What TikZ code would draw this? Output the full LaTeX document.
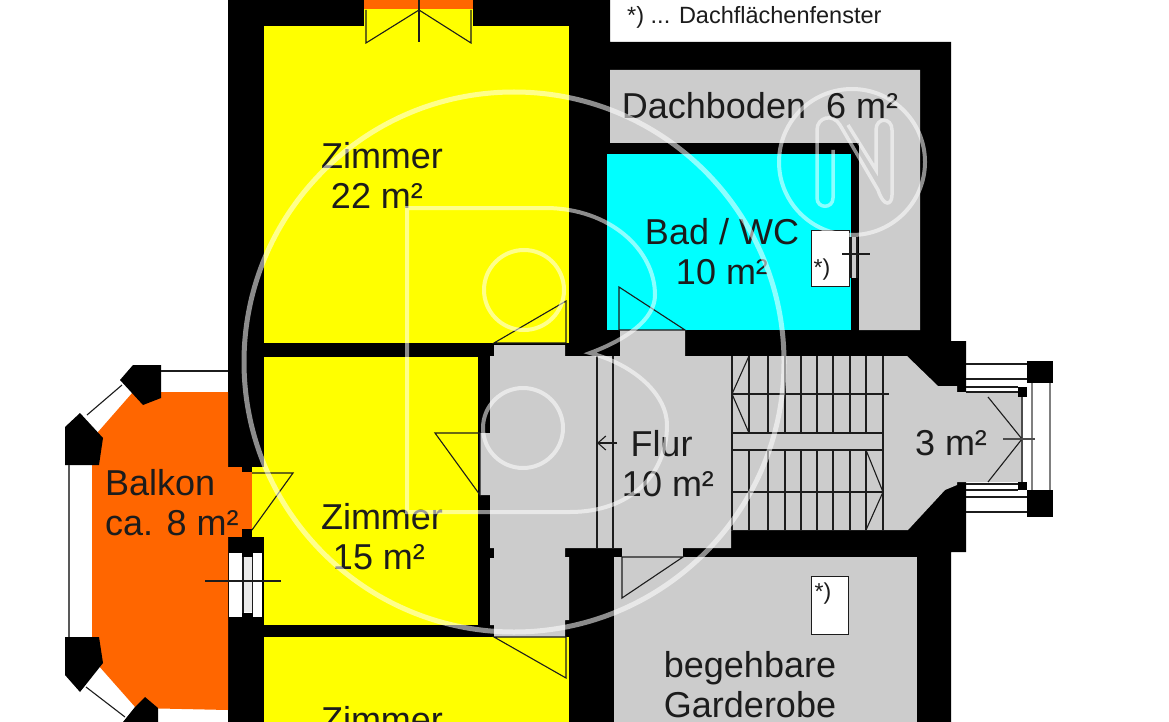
\documentclass[tikz,border=0pt]{standalone}
\usepackage{fontspec}
\setmainfont{Liberation Sans}
\usetikzlibrary{arrows.meta}
\definecolor{wallc}{HTML}{000000}
\definecolor{roomy}{HTML}{FFFF00}
\definecolor{roomg}{HTML}{CCCCCC}
\definecolor{roomc}{HTML}{00FFFF}
\definecolor{roomo}{HTML}{FF6600}
\definecolor{inkc}{HTML}{1C1C1C}
\tikzset{
  wall/.style={fill=wallc,draw=none},
  yroom/.style={fill=roomy,draw=none},
  groom/.style={fill=roomg,draw=none},
  croom/.style={fill=roomc,draw=none},
  oroom/.style={fill=roomo,draw=none},
  fine/.style={draw=inkc,line width=1.1pt},
  label/.style={font=\fontsize{36}{40}\selectfont,text=inkc,align=center,inner sep=0pt},
  small/.style={font=\fontsize{23.5}{28}\selectfont,text=inkc,inner sep=0pt},
  mark text/.style={font=\fontsize{23}{26}\selectfont,text=inkc,inner sep=0pt},
  wm/.style={draw=white,line width=5pt,opacity=0.55},
  wmthin/.style={draw=white,line width=4pt,opacity=0.55}
}
\begin{document}
\begin{tikzpicture}[x=1pt,y=-1pt]
\useasboundingbox (0,0) rectangle (1169,722);
\fill[white] (0,0) rectangle (1169,722);
% walls
\path[wall] (228,0)--(610,0)--(610,42)--(951,42)--(951,341)--(966,341)--(966,552)--(951,552)--(951,722)--(228,722)--cycle;
% balcony
\path[oroom] (228,392)--(133,392)--(98,432)--(92,450)--(92,637)--(98,665)--(136,708)--(228,710)--cycle;
\path[oroom] (228,467)rectangle(252,537);
% balcony pillars
\path[wall] (120,380)--(133,365)--(161,365)--(161,398)--(143,405)--cycle;
\path[wall] (65,427)--(80,413)--(103,438)--(99,465)--(65,465)--cycle;
\path[wall] (65,637)--(99,637)--(103,663)--(80,692)--(65,675)--cycle;
\path[wall] (145,697)--(158,708)--(158,722)--(123,722)--(135,707)--cycle;
\draw[fine] (161,371)--(228,371);
\draw[fine] (87,415)--(122,385);
\draw[fine,draw=gray!70!black,line width=1.5pt] (69,465)--(69,637);
\draw[fine] (86,687)--(125,717);
% rooms left
\path[yroom] (264,26) rectangle (569,343);
\path[yroom] (264,357) rectangle (478,625);
\path[yroom] (264,637) rectangle (569,722);
\path[yroom] (252,467)rectangle(264,537);
% balcony door & window
\path[wall] (242,467)rectangle(252,472);
\path[wall] (242,529)rectangle(252,537);
\draw[fine] (252,473)--(293,473)--(252,530);
\fill[white] (229,553) rectangle (262,617);
\fill[roomg!40!white] (244,556) rectangle (252,612);
\draw[fine] (243,553)--(243,617) (252.5,553)--(252.5,617);
\path[wall] (242,548) rectangle (253,557);
\path[wall] (242,613) rectangle (253,620);
\draw[fine] (205,581)--(281,581);
% top window
\path[oroom] (364,0) rectangle (473,9);
\path[yroom] (364,9) rectangle (473,27);
\draw[fine] (366,10)--(366,43)--(419,10)--(471,43)--(471,10);
\draw[fine] (419,0)--(419,42);
% flur
\path[groom] (494,345)--(565,345)--(565,356)--(620,356)--(620,330)--(685,330)--(685,356)--(907,356)--(938,386)--(957,386)--(957,392)--(1022,392)--(1022,482)--(957,482)--(957,485)--(945,490)--(908,530)--(731,530)--(731,548)--(565,548)--(565,557)--(569,557)--(569,620)--(565,620)--(565,637)--(494,637)--(494,625)--(490,625)--(490,558)--(494,558)--(494,548)--(490,548)--(490,495)--(480,495)--(480,433)--(490,433)--(490,356)--(494,356)--cycle;
% dachboden, bad, garderobe
\path[groom] (610,70)--(920,70)--(920,330)--(859,330)--(859,143)--(610,143)--cycle;
\path[croom] (607,154) rectangle (851,330);
\path[groom] (614,557) rectangle (917,722);
\path[groom] (622,548) rectangle (683,558);
% door lines
\draw[fine] (494,343)--(566,301)--(566,343)--cycle;
\draw[fine] (435,433)--(480,433)--(480,495)--cycle;
\draw[fine] (494,637)--(566,678)--(566,637)--cycle;
\draw[fine] (619,287)--(619,330)--(685,330)--cycle;
\draw[fine] (622,557)--(622,598)--(683,557)--cycle;
% flur strip
\draw[fine] (597,356)--(597,548) (613,356)--(613,548);
\draw[fine,-{Straight Barb[length=8pt,width=14pt]}] (617,443)--(597,443);
% stairs
\foreach \sx in {749,768,785,801,817,833,850,866}{\draw[fine] (\sx,356)--(\sx,433) (\sx,450)--(\sx,530);}
\draw[fine] (732,356)--(732,530) (883,356)--(883,530);
\fill[roomg] (733,434) rectangle (882,449);
\draw[fine] (731,433)--(883,433) (731,450)--(883,450);
\draw[fine] (732,394)--(889,394) (732,492)--(883,492);
\draw[fine] (749,356)--(732,394)--(749,433);
\draw[fine] (866,450)--(883,492)--(866,530);
% entrance
\draw[fine] (966,364)--(1028,364) (966,379)--(1028,379) (966,387)--(1018,387) (966,392)--(1022,392);
\draw[fine] (966,484)--(1018,484) (966,490)--(1018,490) (966,497)--(1028,497) (966,512)--(1028,512);
\draw[fine,draw=gray] (1032,383)--(1032,490);
\draw[fine,draw=gray,line width=1.4pt] (1050,383)--(1050,490);
\path[wall] (1027,361) rectangle (1053,383);
\path[wall] (1027,490) rectangle (1053,517);
\path[wall] (1018,387) rectangle (1027,397);
\path[wall] (1018,482) rectangle (1027,490);
\draw[fine,draw=gray!60!black] (1022,397)--(1022,482);
\draw[fine] (988,397)--(1022,439)--(988,482);
\draw[fine,draw=gray!60!black] (1003,439)--(1035,439);
% skylights
\node[draw=inkc,fill=white,line width=0.8pt,minimum width=38pt,minimum height=56pt,inner sep=0pt] (bw) at (830,258) {};
\fill[roomg] (851,237) rectangle (858,278);
\draw[fine] (842,254)--(870,254) (851,237)--(851,278) (857,237)--(857,278);
\node[mark text] at (822,270) {*)};
\node[draw=inkc,fill=white,line width=0.8pt,minimum width=37pt,minimum height=58pt,inner sep=0pt] (gw) at (829.5,605) {};
\node[mark text] at (823,594) {*)};
% labels
\node[small,anchor=west] (legend) at (627,17) {*) ... Dachflächenfenster};
\node[label] (z22) at (382,175) {Zimmer\\22 m²\hspace*{10pt}};
\node[label] (z15) at (382,537) {Zimmer\\15 m²\hspace*{6pt}};
\node[label] (z3) at (382,720) {Zimmer};
\node[label] (dach) at (760,106) {Dachboden\ \ 6 m²};
\node[label] (bad) at (722,252) {Bad / WC\\10 m²};
\node[label,align=left,anchor=west] (balk) at (105,503) {Balkon\\ca. 8 m²};
\node[label] (flur) at (668,464) {Flur\hspace*{13pt}\\10 m²};
\node[label] (m3) at (951,443) {3 m²};
\node[label] (gard) at (750,685) {begehbare\\Garderobe};
% watermark
\draw[wm] (514,362) circle (270);
\draw[wmthin] (524,290) circle (40);
\draw[wmthin] (523,428) circle (40);
\draw[wmthin] (852,162) circle (73);
\draw[wmthin] (407,512)--(407,208)--(545,208) .. controls (610,208) and (655,250) .. (655,295) .. controls (655,320) and (625,340) .. (590,353) .. controls (635,365) and (667,395) .. (667,425) .. controls (667,475) and (630,512) .. (570,512)--cycle;
\draw[wmthin,line width=3.5pt] (833,150)--(833,198) .. controls (833,209) and (817,209) .. (817,198) -- (817,130) .. controls (817,117) and (833,113) .. (840,125) -- (878,190) .. controls (884,208) and (892,205) .. (892,195) -- (892,130) .. controls (892,117) and (876,117) .. (876,130) -- (876,170) -- (848,125);
\end{tikzpicture}
\end{document}
